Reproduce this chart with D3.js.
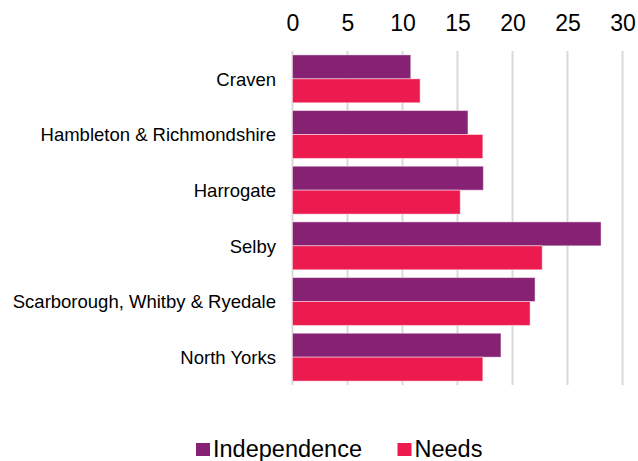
<!DOCTYPE html>
<html>
<head>
<meta charset="utf-8">
<script src="https://cdn.jsdelivr.net/npm/d3@7"></script>
<style>
  html, body { margin: 0; padding: 0; background: #fff; }
  svg { display: block; font-family: "Liberation Sans", Arial, sans-serif; }
</style>
</head>
<body>
<svg id="chart" width="638" height="461"></svg>
<script>
// Districts of North Yorkshire, top to bottom
const categories = [
  "Craven",
  "Hambleton & Richmondshire",
  "Harrogate",
  "Selby",
  "Scarborough, Whitby & Ryedale",
  "North Yorks"
];
const seriesNames = ["Independence", "Needs"];
const independence = [10.75, 15.95, 17.35, 28.05, 22.05, 18.95];
const needs = [11.6, 17.3, 15.25, 22.7, 21.6, 17.3];
const tickValues = [0, 5, 10, 15, 20, 25, 30];
const colors = ["#862173", "#EC1A4E"];

const rows = categories.map((c, i) => ({ cat: c, values: [independence[i], needs[i]] }));

const svg = d3.select("#chart");
const plotLeft = 292.5, plotRight = 622.5, plotTop = 51, plotBottom = 385;

const x = d3.scaleLinear().domain([0, 30]).range([plotLeft, plotRight]);
const y = d3.scaleBand().domain(categories).range([plotTop, plotBottom])
  .paddingInner(0.14).paddingOuter(0.07);
const ySub = d3.scaleBand().domain(seriesNames).range([0, y.bandwidth()]);

// vertical gridlines
svg.append("g")
  .selectAll("line")
  .data(tickValues)
  .join("line")
  .attr("x1", d => x(d)).attr("x2", d => x(d))
  .attr("y1", plotTop).attr("y2", plotBottom)
  .attr("stroke", "#d9d9d9")
  .attr("stroke-width", 2);

// value axis along the top
const xAxis = d3.axisTop(x).tickValues(tickValues).tickSize(0).tickPadding(0);
const gx = svg.append("g").attr("transform", "translate(0,31)").call(xAxis);
gx.select(".domain").remove();
gx.selectAll("text")
  .attr("fill", "#000")
  .attr("font-size", 23)
  .attr("dy", 0)
  .attr("y", 0)
  .attr("font-family", "Liberation Sans, Arial, sans-serif");

// bars
const groups = svg.append("g")
  .selectAll("g")
  .data(rows)
  .join("g")
  .attr("transform", d => `translate(0,${y(d.cat)})`);

groups.selectAll("rect")
  .data(d => d.values.map((v, k) => ({ v, s: seriesNames[k], k })))
  .join("rect")
  .attr("x", x(0))
  .attr("y", d => ySub(d.s))
  .attr("width", d => x(d.v) - x(0))
  .attr("height", ySub.bandwidth())
  .attr("fill", d => colors[d.k])
  .attr("stroke", "rgba(255,255,255,0.45)")
  .attr("stroke-width", 1);

// category axis on the left
const yAxis = d3.axisLeft(y).tickSize(0).tickPadding(0);
const gy = svg.append("g").attr("transform", "translate(276,1)").call(yAxis);
gy.select(".domain").remove();
gy.selectAll("text")
  .attr("fill", "#000")
  .attr("font-size", 18.5)
  .attr("font-family", "Liberation Sans, Arial, sans-serif");

// legend
const legendItems = [
  { name: seriesNames[0], color: colors[0], x: 196 },
  { name: seriesNames[1], color: colors[1], x: 397.5 }
];
const lg = svg.append("g");
legendItems.forEach(item => {
  lg.append("rect")
    .attr("x", item.x).attr("y", 443)
    .attr("width", 14).attr("height", 13)
    .attr("fill", item.color);
  lg.append("text")
    .attr("x", item.x + 17).attr("y", 457)
    .attr("font-size", 23.5)
    .attr("fill", "#000")
    .text(item.name);
});
</script>
</body>
</html>
